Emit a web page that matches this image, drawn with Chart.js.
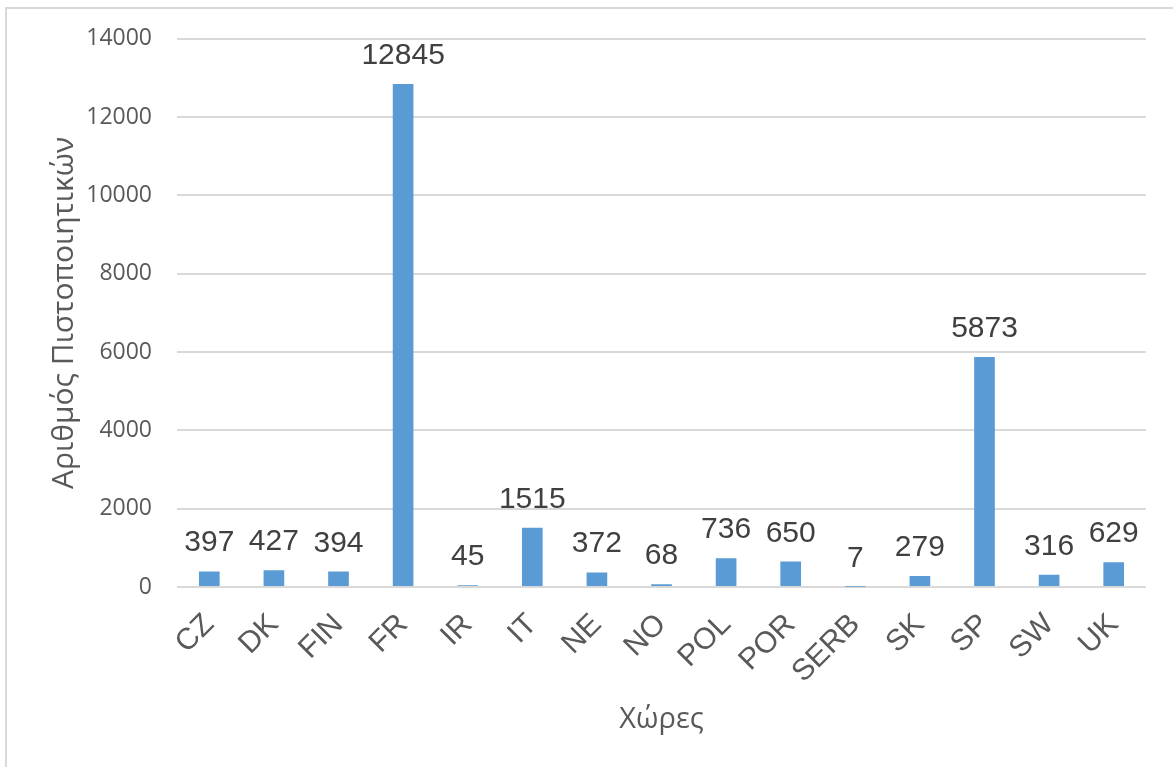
<!DOCTYPE html>
<html>
<head>
<meta charset="utf-8">
<script src="https://cdn.jsdelivr.net/npm/chart.js@4.4.1/dist/chart.umd.min.js"></script>
<style>
    html, body { margin: 0; padding: 0; background: #fff; overflow: hidden; }
    #wrap { position: relative; width: 1173px; height: 767px; }
    #frame {
        position: absolute; left: 5px; top: 7px; width: 1200px; height: 800px;
        border-left: 2px solid #d9d9d9; border-top: 2px solid #d9d9d9;
    }
    #certChart { position: absolute; left: 0; top: 0; }
</style>
</head>
<body>
<div id="wrap">
    <div id="frame"></div>
    <canvas id="certChart" width="1173" height="767"></canvas>
</div>
<script>
// Certificates per country
const countries = ['CZ', 'DK', 'FIN', 'FR', 'IR', 'IT', 'NE', 'NO', 'POL', 'POR', 'SERB', 'SK', 'SP', 'SW', 'UK'];
const counts = [397, 427, 394, 12845, 45, 1515, 372, 68, 736, 650, 7, 279, 5873, 316, 629];
const yTicks = [0, 2000, 4000, 6000, 8000, 10000, 12000, 14000];

const barColor = '#5b9bd5';
const gridColor = '#d9d9d9';
const axisText = '#595959';

// value above each bar
const valueLabels = {
    id: 'valueLabels',
    afterDatasetsDraw(chart) {
        const ctx = chart.ctx;
        const meta = chart.getDatasetMeta(0);
        ctx.save();
        ctx.font = '30px "Liberation Sans", Arial, sans-serif';
        ctx.fillStyle = '#404040';
        ctx.textAlign = 'center';
        ctx.textBaseline = 'alphabetic';
        meta.data.forEach((bar, i) => {
            ctx.fillText(String(counts[i]), bar.x, bar.y - 20);
        });
        ctx.restore();
    }
};

const ctxCert = document.getElementById('certChart');
new Chart(ctxCert, {
    type: 'bar',
    data: {
        labels: countries,
        datasets: [{
            data: counts,
            backgroundColor: barColor,
            borderWidth: 0,
            barPercentage: 0.32,
            categoryPercentage: 1
        }]
    },
    options: {
        responsive: false,
        animation: false,
        layout: { padding: { left: 8, right: 27, top: 37, bottom: 0 } },
        plugins: {
            legend: { display: false },
            tooltip: { enabled: false }
        },
        scales: {
            x: {
                grid: { display: false },
                border: { display: false },
                ticks: {
                    autoSkip: false,
                    maxRotation: 45,
                    minRotation: 45,
                    padding: 12,
                    color: axisText,
                    font: { family: '"Liberation Sans", Arial, sans-serif', size: 30 }
                },
                title: {
                    display: true,
                    text: 'Χώρες',
                    color: axisText,
                    font: { family: '"Open Sans", sans-serif', size: 29 },
                    padding: { top: 0, bottom: 30 }
                },
                afterFit(scale) { scale.height = 180; }
            },
            y: {
                min: 0,
                max: 14000,
                afterBuildTicks(scale) {
                    scale.ticks = yTicks.map(v => ({ value: v }));
                },
                grid: { color: gridColor, lineWidth: 2, drawTicks: false },
                border: { display: false },
                ticks: {
                    padding: 25,
                    color: axisText,
                    font: { family: '"Open Sans", sans-serif', size: 23 },
                    callback: v => String(v)
                },
                title: {
                    display: true,
                    text: 'Αριθμός Πιστοποιητικών',
                    color: axisText,
                    font: { family: '"Open Sans", sans-serif', size: 30 },
                    padding: { top: 38, bottom: 0 }
                },
                afterFit(scale) { scale.width = 169; }
            }
        }
    },
    plugins: [valueLabels]
});
</script>
</body>
</html>
